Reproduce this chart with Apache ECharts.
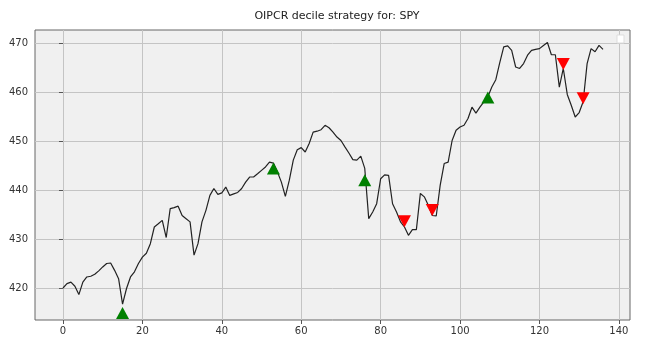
<!DOCTYPE html>
<html>
<head>
<meta charset="utf-8">
<script src="https://cdn.jsdelivr.net/npm/echarts@6/dist/echarts.min.js"></script>
<style>
  html, body { margin: 0; padding: 0; background: #fff; }
  #chart { width: 660px; height: 350px; }
</style>
</head>
<body>
<div id="chart"></div>
<script>
// SPY closing prices by trading-day index
const closes = [
  420.0, 420.9, 421.2, 420.35, 418.65, 421.2, 422.25, 422.4, 422.8, 423.5,
  424.3, 425.0, 425.1, 423.6, 421.9, 416.7, 419.9, 422.25, 423.3, 425.0,
  426.3, 427.1, 429.05, 432.45, 433.1, 433.8, 430.3, 436.2, 436.4, 436.7,
  434.8, 434.15, 433.5, 426.7, 429.05, 433.5, 435.85, 438.9, 440.3, 439.1,
  439.4, 440.6, 438.9, 439.2, 439.5, 440.3, 441.6, 442.65, 442.65, 443.3,
  444.0, 444.7, 445.7, 445.5, 443.7, 441.6, 438.7, 442.0, 446.1, 448.2,
  448.65, 447.75, 449.5, 451.8, 452.0, 452.3, 453.2, 452.7, 451.8, 450.8,
  450.1, 448.8, 447.55, 446.2, 446.1, 446.9, 444.4, 434.15, 435.5, 437.2,
  442.3, 443.1, 443.0, 437.2, 435.5, 433.5, 432.45, 430.75, 431.9, 431.9,
  439.3, 438.6, 436.9, 434.8, 434.7, 441.0, 445.4, 445.7, 450.1, 452.2,
  452.85, 453.2, 454.6, 456.9, 455.7, 456.9, 458.0, 459.0, 461.0, 462.5,
  466.0, 469.2, 469.4, 468.5, 465.1, 464.8, 465.8, 467.5, 468.5, 468.7,
  468.85, 469.5, 470.1, 467.6, 467.6, 461.0, 464.8, 459.5, 457.3, 454.9,
  455.8, 458.0, 465.8, 468.85, 468.2, 469.5, 468.7
];

// Buy signals (green, pointing up)
const buyIdx = [15, 53, 76, 107];
const buyVal = [414.9, 444.4, 442.0, 458.85];

// Sell signals (red, pointing down)
const sellIdx = [86, 93, 126, 131];
const sellVal = [433.6, 435.9, 465.7, 458.7];

// Axis tick labels
const xTicks = [0, 20, 40, 60, 80, 100, 120, 140];
const yTicks = [420, 430, 440, 450, 460, 470];

const titleText = 'OIPCR decile strategy for: SPY';

const lineData = closes.map((v, i) => [i, v]);
const buyData = buyIdx.map((x, k) => [x, buyVal[k]]);
const sellData = sellIdx.map((x, k) => [x, sellVal[k]]);

const chart = echarts.init(document.getElementById('chart'), null, { renderer: 'canvas' });

const axisFont = { fontFamily: 'DejaVu Sans', fontSize: 10, color: '#333' };

chart.setOption({
  animation: false,
  backgroundColor: '#ffffff',
  title: {
    text: titleText,
    left: 332,
    textAlign: 'center',
    top: 6,
    textStyle: { fontFamily: 'DejaVu Sans', fontSize: 11, fontWeight: 'normal', color: '#222' }
  },
  grid: {
    left: 35, right: 30, top: 30, bottom: 30,
    show: true,
    backgroundColor: '#f0f0f0',
    borderColor: '#666',
    borderWidth: 1
  },
  xAxis: {
    type: 'value',
    min: -7.05,
    max: 142.8,
    axisLine: { show: false },
    axisTick: { show: true, length: 4, lineStyle: { color: '#555' }, customValues: xTicks },
    axisLabel: { ...axisFont, margin: 6, customValues: xTicks },
    splitLine: { show: true, lineStyle: { color: '#c4c4c4', width: 1 } }
  },
  yAxis: {
    type: 'value',
    min: 413.47,
    max: 472.65,
    axisLine: { show: false },
    axisTick: { show: true, length: 4, lineStyle: { color: '#555' }, customValues: yTicks },
    axisLabel: { ...axisFont, margin: 7, customValues: yTicks },
    splitLine: { show: true, lineStyle: { color: '#c4c4c4', width: 1 } }
  },
  series: [
    {
      type: 'line',
      data: lineData,
      showSymbol: false,
      lineStyle: { color: '#222', width: 1.2 },
      z: 2
    },
    {
      type: 'scatter',
      data: buyData,
      symbol: 'triangle',
      symbolSize: [13, 12],
      itemStyle: { color: '#008000', opacity: 1 },
      z: 3
    },
    {
      type: 'scatter',
      data: sellData,
      symbol: 'triangle',
      symbolRotate: 180,
      symbolSize: [13, 12],
      itemStyle: { color: '#ff0000', opacity: 1 },
      z: 3
    }
  ],
  graphic: [
    {
      type: 'rect',
      shape: { x: 617, y: 35, width: 7, height: 8 },
      style: { fill: '#ffffff', stroke: '#dddddd', lineWidth: 1 },
      z: 10
    }
  ]
});
</script>
</body>
</html>
